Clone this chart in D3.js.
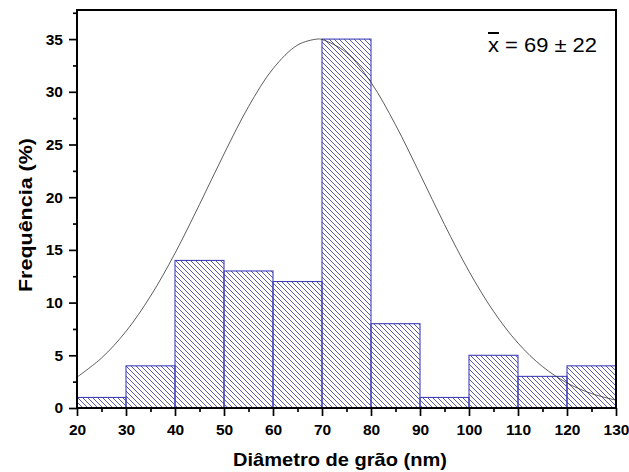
<!DOCTYPE html>
<html>
<head>
<meta charset="utf-8">
<script src="https://cdn.jsdelivr.net/npm/d3@7"></script>
<style>
html,body{margin:0;padding:0;background:#fff;}
svg{display:block;font-family:"Liberation Sans",Arial,sans-serif;}
</style>
</head>
<body>
<svg id="chart" width="629" height="472"></svg>
<script>
// Histogram bins (nm) and frequencies (%)
const binStarts = [20, 30, 40, 50, 60, 70, 80, 90, 100, 110, 120];
const binWidth = 10;
const freqs = [1, 4, 14, 13, 12, 35, 8, 1, 5, 3, 4];
// Fitted normal curve
const curveX = [20,25,30,35,40,45,50,55,60,65,69,70,75,80,85,90,95,100,105,110,115,120,125,130];
const curveY = [2.93,4.74,7.27,10.61,14.68,19.31,24.10,28.59,32.19,34.43,35,34.96,33.72,30.89,26.87,22.19,17.41,12.97,9.17,6.16,3.93,2.38,1.37,0.75];
const xTicks = [20,30,40,50,60,70,80,90,100,110,120,130];
const yTicks = [0,5,10,15,20,25,30,35];
const annotation = {mean: 69, sd: 22};

const svg = d3.select("#chart");
const L = 77, R = 616, T = 10, B = 408;
const x = d3.scaleLinear().domain([20, 130]).range([L, R]);
const y = d3.scaleLinear().domain([0, 37.76]).range([B, T]);

// hatch pattern
const defs = svg.append("defs");
const pat = defs.append("pattern")
  .attr("id", "hatch").attr("patternUnits", "userSpaceOnUse")
  .attr("width", 5).attr("height", 5);
pat.append("path")
  .attr("d", "M-1.25,-1.25 L6.25,6.25 M-1.25,3.75 L1.25,6.25 M3.75,-1.25 L6.25,1.25")
  .attr("stroke", "#3a3a9c").attr("stroke-width", 0.85);

// bars
svg.append("g").selectAll("rect").data(binStarts).join("rect")
  .attr("x", (d) => x(d))
  .attr("width", (d) => x(d + binWidth) - x(d))
  .attr("y", (d, i) => y(freqs[i]))
  .attr("height", (d, i) => y(0) - y(freqs[i]))
  .attr("fill", "url(#hatch)")
  .attr("stroke", "#4040b8").attr("stroke-width", 1.1);

// curve
const line = d3.line().x((d, i) => x(curveX[i])).y((d) => y(d)).curve(d3.curveCatmullRom);
svg.append("path").datum(curveY).attr("d", line)
  .attr("fill", "none").attr("stroke", "#333").attr("stroke-width", 0.8);

// frame
svg.append("rect").attr("x", L).attr("y", T).attr("width", R - L).attr("height", B - T)
  .attr("fill", "none").attr("stroke", "#000").attr("stroke-width", 2);

// axes
const xAxis = d3.axisBottom(x).tickValues(xTicks).tickSize(8).tickPadding(8);
const gx = svg.append("g").attr("transform", `translate(0,${B})`).call(xAxis);
const xMinor = d3.axisBottom(x).tickValues(d3.range(25, 130, 10)).tickSize(4).tickFormat("");
const gxm = svg.append("g").attr("transform", `translate(0,${B})`).call(xMinor);

const yAxis = d3.axisLeft(y).tickValues(yTicks).tickSize(8).tickPadding(6);
const gy = svg.append("g").attr("transform", `translate(${L},0)`).call(yAxis);
const yMinor = d3.axisLeft(y).tickValues(d3.range(2.5, 37.6, 5)).tickSize(4).tickFormat("");
const gym = svg.append("g").attr("transform", `translate(${L},0)`).call(yMinor);

[gx, gxm, gy, gym].forEach(g => {
  g.select(".domain").remove();
  g.selectAll("line").attr("stroke", "#000").attr("stroke-width", 1.7);
  g.selectAll("text").attr("fill", "#000").style("font-size", "15.5px").style("font-weight", "bold")
    .style("font-family", '"Liberation Sans", Arial, sans-serif');
});

// axis titles
svg.append("text").attr("x", 340).attr("y", 466).attr("text-anchor", "middle")
  .attr("textLength", 214).attr("lengthAdjust", "spacingAndGlyphs")
  .style("font-size", "18.5px").style("font-weight", "bold").text("Diâmetro de grão (nm)");
svg.append("text").attr("transform", "translate(32,215) rotate(-90)").attr("text-anchor", "middle")
  .attr("textLength", 154).attr("lengthAdjust", "spacingAndGlyphs")
  .style("font-size", "18px").style("font-weight", "bold").text("Frequência (%)");

// annotation
const ann = svg.append("text").attr("x", 488).attr("y", 52)
  .attr("textLength", 109).attr("lengthAdjust", "spacingAndGlyphs")
  .style("font-size", "20px");
ann.append("tspan").style("text-decoration", "overline").text("x");
ann.append("tspan").text(` = ${annotation.mean} ± ${annotation.sd}`);
</script>
</body>
</html>
